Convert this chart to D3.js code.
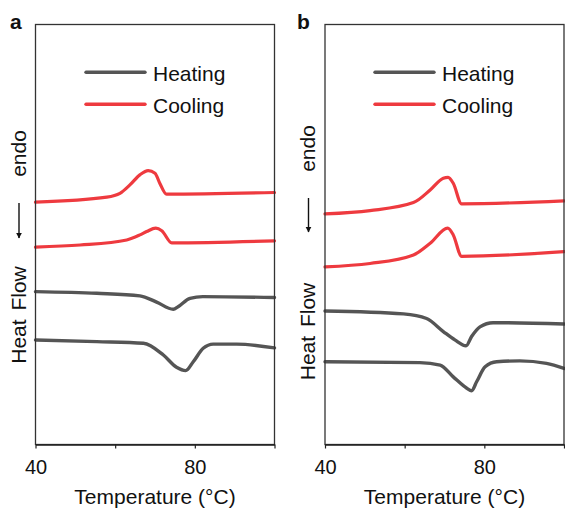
<!DOCTYPE html>
<html>
<head>
<meta charset="utf-8">
<script src="https://cdn.jsdelivr.net/npm/d3@7"></script>
<style>
  body { margin: 0; background: #fff; }
  text { font-family: 'Liberation Sans', Arial, sans-serif; fill: #111; }
</style>
</head>
<body>
<div id="chart"></div>
<script>
// DSC traces, temperature (°C) vs heat flow (arb. units, offset per trace)
const tickValues = [40, 60, 80, 100];
const tickLabels = { 40: '40', 80: '80' };

const coolA1 = [[40, 57.7], [57.9, 58.9], [61.2, 59.8], [63.7, 61.8], [66.2, 64.2], [68.3, 65.2], [70.0, 64.6], [71.2, 62.2], [72.9, 59.6], [100, 60.0]];
const coolA2 = [[40, 47.0], [51.2, 47.5], [62.9, 48.7], [66.2, 49.9], [67.9, 50.7], [70.2, 51.5], [71.7, 50.9], [74.2, 48.0], [100, 48.5]];
const heatA1 = [[40, 36.4], [55.4, 36.0], [66.2, 35.4], [70.4, 33.9], [74.6, 32.2], [75.8, 32.8], [78.8, 34.8], [82.0, 35.2], [100, 35.0]];
const heatA2 = [[40, 24.9], [55.4, 24.5], [67.1, 24.1], [72.1, 21.3], [75.4, 18.4], [77.7, 17.6], [79.6, 19.7], [82.1, 22.9], [84.6, 23.9], [90.5, 23.9], [100, 23.0]];

const coolB1 = [[40, 54.9], [51.3, 55.7], [62.2, 57.6], [66.4, 60.6], [69.7, 63.4], [70.9, 63.6], [72.2, 62.2], [74.3, 57.3], [100, 58.0]];
const coolB2 = [[40, 42.3], [51.3, 43.1], [62.2, 45.1], [66.4, 47.9], [70.8, 51.5], [72.2, 49.9], [74.3, 44.8], [100, 45.9]];
const heatB1 = [[40, 31.8], [59.7, 31.1], [65.5, 30.0], [69.7, 26.9], [72.6, 24.9], [75.4, 23.5], [76.8, 25.7], [78.9, 28.0], [82.2, 29.0], [100, 28.7]];
const heatB2 = [[40, 19.7], [63.8, 19.5], [68.9, 18.9], [72.2, 16.1], [75.6, 13.4], [76.8, 12.8], [78.1, 15.0], [80.2, 18.5], [83.1, 19.7], [88.9, 19.9], [95.6, 19.3], [100, 18.1]];

const red = '#ee3a3f';
const grey = '#555555';

const panels = [
  {
    letter: 'a', left: 35.5, right: 274.5, letterX: 10,
    series: [
      { data: coolA1, colour: red }, { data: coolA2, colour: red },
      { data: heatA1, colour: grey }, { data: heatA2, colour: grey },
    ],
    legendX: 86, labelX: 25.5, endoY: 153.5, arrowTop: 203, arrowBottom: 238, flowY: 315,
  },
  {
    letter: 'b', left: 325, right: 564, letterX: 297,
    series: [
      { data: coolB1, colour: red }, { data: coolB2, colour: red },
      { data: heatB1, colour: grey }, { data: heatB2, colour: grey },
    ],
    legendX: 375, labelX: 315, endoY: 148.5, arrowTop: 198, arrowBottom: 232, flowY: 331.5,
  },
];

const width = 565;
const height = 509;
const plotTop = 24.5;
const plotBottom = 444.5;

const svg = d3
  .select('#chart')
  .append('svg')
  .attr('width', width)
  .attr('height', height);

svg
  .append('defs')
  .append('marker')
  .attr('id', 'arrowHead')
  .attr('viewBox', '0 0 10 10')
  .attr('refX', 9)
  .attr('refY', 5)
  .attr('markerWidth', 6)
  .attr('markerHeight', 8)
  .attr('markerUnits', 'userSpaceOnUse')
  .attr('orient', 'auto')
  .append('path')
  .attr('d', 'M0,0 L10,5 L0,10 z')
  .attr('fill', '#111');

panels.forEach(p => {
  const x = d3.scaleLinear().domain([40, 100]).range([p.left, p.right]);
  const y = d3.scaleLinear().domain([0, 100]).range([plotBottom, plotTop]);
  const g = svg.append('g');

  const line = d3
    .line()
    .x(d => x(d[0]))
    .y(d => y(d[1]))
    .curve(d3.curveMonotoneX);

  g.selectAll('path.trace')
    .data(p.series)
    .enter()
    .append('path')
    .attr('class', 'trace')
    .attr('d', d => line(d.data))
    .attr('fill', 'none')
    .attr('stroke', d => d.colour)
    .attr('stroke-width', d => (d.colour === red ? 3.2 : 3.4))
    .attr('stroke-linejoin', 'round')
    .attr('stroke-linecap', 'round');

  // frame
  g.append('rect')
    .attr('x', p.left)
    .attr('y', plotTop)
    .attr('width', p.right - p.left)
    .attr('height', plotBottom - plotTop)
    .attr('fill', 'none')
    .attr('stroke', '#333')
    .attr('stroke-width', 1.3);

  const axis = g
    .append('g')
    .attr('transform', 'translate(0,' + plotBottom + ')')
    .call(
      d3
        .axisBottom(x)
        .tickValues(tickValues)
        .tickSize(4)
        .tickSizeOuter(0)
        .tickFormat(d => tickLabels[d] || '')
    );
  axis.select('.domain').attr('stroke', '#222').attr('stroke-width', 1.3);
  axis.selectAll('.tick line').attr('stroke', '#222').attr('stroke-width', 1.2);
  axis
    .selectAll('.tick text')
    .attr('y', 29)
    .attr('dy', 0)
    .style('font-size', '20px')
    .style('font-family', "'Liberation Sans', Arial, sans-serif")
    .attr('fill', '#111');

  g.append('text')
    .text('Temperature (°C)')
    .attr('x', (p.left + p.right) / 2)
    .attr('y', 503.5)
    .attr('text-anchor', 'middle')
    .style('font-size', '21px');

  g.append('text')
    .text(p.letter)
    .attr('x', p.letterX)
    .attr('y', 28.5)
    .style('font-size', '21px')
    .style('font-weight', 'bold');

  // legend
  const legend = [
    { name: 'Heating', colour: grey, y: 72.3 },
    { name: 'Cooling', colour: red, y: 104.3 },
  ];
  legend.forEach(l => {
    g.append('line')
      .attr('x1', p.legendX)
      .attr('x2', p.legendX + 59)
      .attr('y1', l.y)
      .attr('y2', l.y)
      .attr('stroke', l.colour)
      .attr('stroke-width', 3.4)
      .attr('stroke-linecap', 'round');
    g.append('text')
      .text(l.name)
      .attr('x', p.legendX + 67)
      .attr('y', l.y + 8.5)
      .style('font-size', '21px');
  });

  // y label: endo, arrow, Heat Flow
  g.append('text')
    .text('endo')
    .attr('transform', 'translate(' + p.labelX + ',' + p.endoY + ') rotate(-90)')
    .attr('text-anchor', 'middle')
    .style('font-size', '21px');

  g.append('line')
    .attr('x1', p.labelX - 6.5)
    .attr('x2', p.labelX - 6.5)
    .attr('y1', p.arrowTop)
    .attr('y2', p.arrowBottom)
    .attr('stroke', '#111')
    .attr('stroke-width', 1.4)
    .attr('marker-end', 'url(#arrowHead)');

  g.append('text')
    .text('Heat Flow')
    .attr('transform', 'translate(' + p.labelX + ',' + p.flowY + ') rotate(-90)')
    .attr('text-anchor', 'middle')
    .style('font-size', '21px')
    .style('word-spacing', '3px');
});
</script>
</body>
</html>
